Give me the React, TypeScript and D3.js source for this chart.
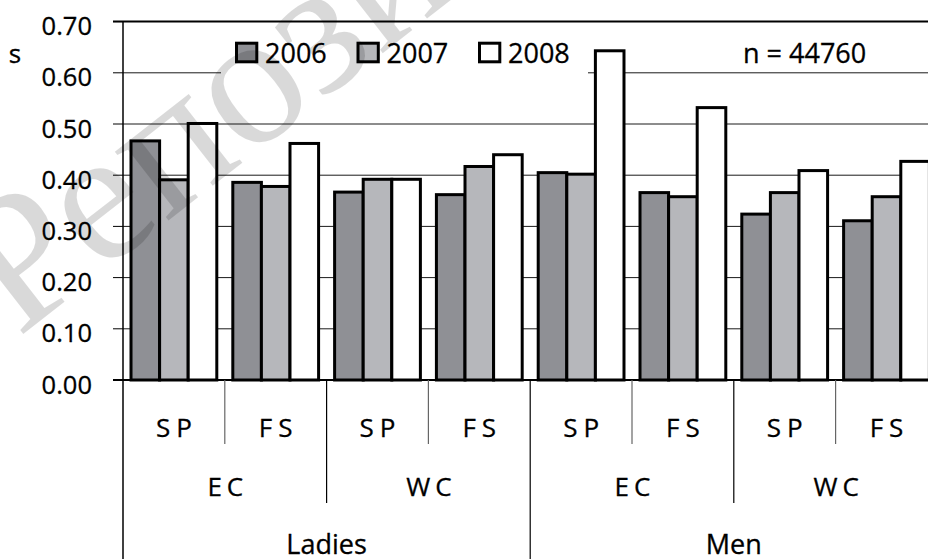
import React from "react";
import * as d3 from "d3";

const genders = ["Ladies", "Men"];
const competitions = ["EC", "WC"];
const disciplines = ["SP", "FS"];
const years = ["2006", "2007", "2008"];
// order: Ladies EC SP, Ladies EC FS, Ladies WC SP, Ladies WC FS, Men EC SP, Men EC FS, Men WC SP, Men WC FS
const values2006 = [0.467, 0.386, 0.367, 0.362, 0.405, 0.366, 0.324, 0.311];
const values2007 = [0.391, 0.378, 0.392, 0.417, 0.402, 0.358, 0.366, 0.358];
const values2008 = [0.501, 0.462, 0.392, 0.44, 0.643, 0.532, 0.409, 0.427];
const yTicks = [0, 0.1, 0.2, 0.3, 0.4, 0.5, 0.6, 0.7];
const yUnit = "s";
const sampleNote = "n = 44760";
const watermark = "Репозиторий";

const W = 928;
const H = 559;
const FONT = "'Open Sans', 'Noto Sans', sans-serif";
const colors: Record<string, string> = { "2006": "#8f9095", "2007": "#b6b7bb", "2008": "#ffffff" };

export default function App() {
  const categories: { key: string; g: string; c: string; d: string }[] = [];
  genders.forEach((g) =>
    competitions.forEach((c) => disciplines.forEach((d) => categories.push({ key: `${g}-${c}-${d}`, g, c, d })))
  );
  const series: Record<string, number[]> = { "2006": values2006, "2007": values2007, "2008": values2008 };

  const y = d3.scaleLinear().domain([0, 0.7]).range([380, 21.6]);
  const x0 = d3.scaleBand<string>().domain(categories.map((c) => c.key)).range([123, 937.4]);
  const bw = x0.bandwidth();
  const x1 = d3.scaleBand<string>().domain(years).range([0, bw]).paddingInner(0).paddingOuter(0.28);
  const fmt = d3.format(".2f");

  const left = x0.range()[0];
  const txt = { fontFamily: FONT, fill: "#000", stroke: "#000", strokeWidth: 0.3 };

  return (
    <svg width={W} height={H} style={{ position: "absolute", left: 0, top: 0, display: "block", background: "#fff" }}>
      <rect x={0} y={0} width={W} height={H} fill="#fff" />
      {/* gridlines */}
      {yTicks.filter((t) => t > 0 && t < 0.7).map((t) => (
        <line key={"g" + t} x1={left} x2={W} y1={y(t)} y2={y(t)} stroke="#1a1a1a" strokeWidth={1} />
      ))}
      {/* top border */}
      <line x1={113} x2={W} y1={y(0.7)} y2={y(0.7)} stroke="#000" strokeWidth={2} />
      {/* tick marks */}
      {yTicks.map((t) => (
        <line key={"t" + t} x1={113} x2={left} y1={y(t)} y2={y(t)} stroke="#000" strokeWidth={1} />
      ))}
      {/* tick labels */}
      {yTicks.map((t) => (
        <text key={"l" + t} x={92} y={y(t) + 13.5} textAnchor="end" fontSize={25.5} {...txt}>
          {fmt(t)}
        </text>
      ))}
      <text x={15} y={63} textAnchor="middle" fontSize={26} {...txt}>
        {yUnit}
      </text>

      {/* legend box */}
      <rect x={221} y={30} width={367} height={48} fill="#fff" />
      {years.map((yr, i) => (
        <g key={"lg" + yr}>
          <rect x={236.5 + i * 121.5} y={43.2} width={20.3} height={18.6} fill={colors[yr]} stroke="#000" strokeWidth={3} />
          <text x={265 + i * 121.5} y={62.5} fontSize={27} {...txt}>
            {yr}
          </text>
        </g>
      ))}
      <text x={743} y={62.5} fontSize={27} {...txt}>
        {sampleNote}
      </text>

      {/* bars */}
      {categories.map((cat, ci) => (
        <g key={cat.key} transform={`translate(${x0(cat.key)},0)`}>
          {years.map((yr) => (
            <rect
              key={yr}
              x={x1(yr)}
              y={y(series[yr][ci])}
              width={x1.bandwidth()}
              height={y(0) - y(series[yr][ci])}
              fill={colors[yr]}
              stroke="#000"
              strokeWidth={3}
            />
          ))}
        </g>
      ))}

      {/* axes */}
      <line x1={113} x2={W} y1={y(0)} y2={y(0)} stroke="#000" strokeWidth={2} />
      <line x1={left} x2={left} y1={y(0.7)} y2={H} stroke="#000" strokeWidth={1.5} />

      {/* category separators */}
      {categories.map((cat, i) => {
        if (i === 0) return null;
        const xx = x0(cat.key)!;
        const end = i % 4 === 0 ? H : i % 2 === 0 ? 503 : 444;
        const col = i % 2 === 0 ? "#000" : "#666";
        return <line key={"s" + i} x1={xx} x2={xx} y1={y(0)} y2={end} stroke={col} strokeWidth={1.2} />;
      })}

      {/* discipline labels */}
      {categories.map((cat) => (
        <text
          key={"d" + cat.key}
          x={x0(cat.key)! + bw / 2 + 3}
          y={437}
          textAnchor="middle"
          fontSize={26}
          letterSpacing={6}
          {...txt}
        >
          {cat.d}
        </text>
      ))}
      {/* competition labels */}
      {genders.map((g) =>
        competitions.map((c) => {
          const k0 = `${g}-${c}-${disciplines[0]}`;
          const cx = x0(k0)! + bw;
          return (
            <text key={"c" + g + c} x={cx + 3} y={496} textAnchor="middle" fontSize={26} letterSpacing={5} {...txt}>
              {c}
            </text>
          );
        })
      )}
      {/* gender labels */}
      {genders.map((g) => {
        const k0 = `${g}-${competitions[0]}-${disciplines[0]}`;
        const cx = x0(k0)! + bw * 2;
        return (
          <text key={"gd" + g} x={cx} y={554} textAnchor="middle" fontSize={27} {...txt}>
            {g}
          </text>
        );
      })}

      {/* watermark */}
      <text
        x={18}
        y={338}
        transform="rotate(-38,18,338)"
        fontFamily="'Liberation Serif', 'DejaVu Serif', serif"
        fontSize={190}
        fill="#000"
        fillOpacity={0.15}
      >
        {watermark}
      </text>
    </svg>
  );
}
